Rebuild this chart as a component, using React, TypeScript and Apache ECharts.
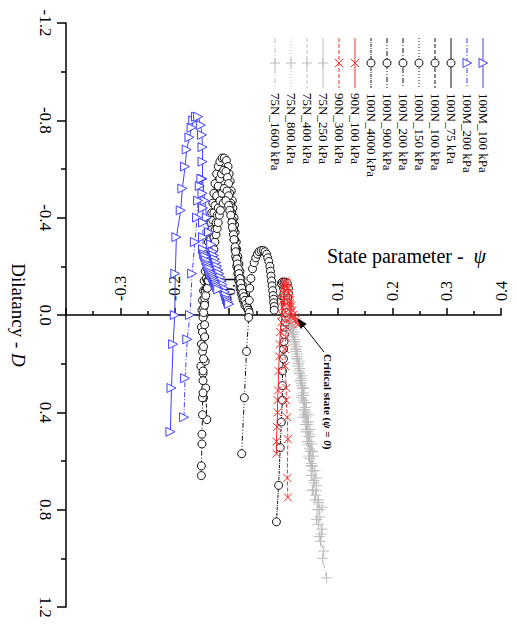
import React, { useEffect, useRef } from 'react';
import * as echarts from 'echarts';

const FONT = '"Liberation Serif", "Times New Roman", Times, serif';
const BLUE = '#3f3fff';
const BLACK = '#111111';
const RED = '#ff2a2a';
const GRAY = '#bcbcbc';

const seriesNames = [
  '100M_100 kPa', '100M_200 kPa', '100N_75 kPa', '100N_100 kPa', '100N_150 kPa',
  '100N_200 kPa', '100N_900 kPa', '100N_4000 kPa', '90N_100 kPa', '90N_300 kPa',
  '75N_250 kPa', '75N_400 kPa', '75N_800 kPa', '75N_1600 kPa',
];

const psiTicks = [-0.4, -0.3, -0.2, -0.1, 0.0, 0.1, 0.2, 0.3, 0.4];
const dTicks = [-1.2, -0.8, -0.4, 0.0, 0.4, 0.8, 1.2];

// [psi, D]
const m100_100 = [
  [-0.208, 0.48], [-0.206, 0.30], [-0.203, 0.12], [-0.200, 0.00], [-0.199, -0.17], [-0.197, -0.32],
  [-0.189, -0.43], [-0.186, -0.52], [-0.181, -0.61], [-0.178, -0.68], [-0.173, -0.73], [-0.169, -0.77],
  [-0.166, -0.80], [-0.161, -0.815], [-0.157, -0.815], [-0.152, -0.78], [-0.150, -0.74], [-0.149, -0.69],
  [-0.149, -0.63], [-0.149, -0.56], [-0.145, -0.47], [-0.141, -0.40], [-0.137, -0.34], [-0.133, -0.29],
  [-0.130, -0.26], [-0.128, -0.245], [-0.126, -0.23], [-0.124, -0.215], [-0.122, -0.20], [-0.120, -0.185],
  [-0.118, -0.17], [-0.116, -0.155], [-0.114, -0.14], [-0.112, -0.125], [-0.110, -0.11], [-0.108, -0.095],
  [-0.106, -0.08], [-0.104, -0.065], [-0.102, -0.055], [-0.100, -0.045],
];
const m100_200 = [
  [-0.183, 0.42], [-0.181, 0.26], [-0.177, 0.10], [-0.172, 0.00], [-0.168, -0.17], [-0.163, -0.30],
  [-0.159, -0.40], [-0.157, -0.47], [-0.154, -0.53], [-0.151, -0.56], [-0.149, -0.50], [-0.148, -0.44],
  [-0.148, -0.38], [-0.148, -0.32], [-0.148, -0.27], [-0.146, -0.25], [-0.144, -0.24], [-0.142, -0.225],
  [-0.140, -0.21], [-0.138, -0.20], [-0.136, -0.19], [-0.134, -0.175], [-0.132, -0.165], [-0.130, -0.155],
  [-0.128, -0.145], [-0.126, -0.135], [-0.124, -0.125], [-0.122, -0.115], [-0.120, -0.105],
];
const n100_75 = [
  [-0.152, 0.21], [-0.151, 0.12], [-0.151, 0.05], [-0.150, -0.02], [-0.149, -0.06], [-0.147, -0.10],
  [-0.146, -0.14], [-0.144, -0.18], [-0.142, -0.22], [-0.140, -0.26], [-0.138, -0.30], [-0.136, -0.34],
  [-0.134, -0.38], [-0.132, -0.42], [-0.130, -0.46], [-0.128, -0.50], [-0.126, -0.54], [-0.123, -0.58],
  [-0.120, -0.61], [-0.117, -0.63], [-0.113, -0.645], [-0.109, -0.645], [-0.105, -0.635], [-0.102, -0.61],
  [-0.100, -0.58], [-0.098, -0.55], [-0.096, -0.51], [-0.094, -0.47], [-0.093, -0.44], [-0.091, -0.40],
  [-0.090, -0.37], [-0.089, -0.34], [-0.087, -0.30], [-0.086, -0.27], [-0.084, -0.24], [-0.082, -0.21],
  [-0.080, -0.18], [-0.078, -0.15], [-0.076, -0.125], [-0.074, -0.10], [-0.072, -0.08], [-0.070, -0.06],
  [-0.068, -0.045], [-0.066, -0.03], [-0.064, -0.02],
];
const n100_100 = [
  [-0.141, 0.43], [-0.143, 0.30], [-0.144, 0.19], [-0.145, 0.09], [-0.146, 0.00], [-0.145, -0.05],
  [-0.144, -0.10], [-0.142, -0.15], [-0.140, -0.19], [-0.138, -0.23], [-0.136, -0.27], [-0.134, -0.31],
  [-0.132, -0.35], [-0.130, -0.39], [-0.128, -0.42], [-0.126, -0.45], [-0.123, -0.49], [-0.120, -0.53],
  [-0.117, -0.56], [-0.114, -0.58], [-0.110, -0.595], [-0.106, -0.59], [-0.103, -0.565], [-0.101, -0.54],
  [-0.099, -0.50], [-0.097, -0.46], [-0.095, -0.42], [-0.094, -0.39], [-0.092, -0.35], [-0.091, -0.31],
  [-0.089, -0.27], [-0.088, -0.24], [-0.086, -0.20], [-0.084, -0.17], [-0.082, -0.14], [-0.080, -0.11],
  [-0.077, -0.085], [-0.074, -0.06], [-0.071, -0.04],
];
const n100_150 = [
  [-0.147, 0.34], [-0.148, 0.24], [-0.149, 0.15], [-0.149, 0.07], [-0.148, 0.01], [-0.147, -0.03],
  [-0.145, -0.07], [-0.142, -0.11], [-0.140, -0.14], [-0.138, -0.17], [-0.136, -0.20], [-0.134, -0.23],
  [-0.132, -0.26], [-0.130, -0.29], [-0.128, -0.32], [-0.126, -0.35], [-0.124, -0.38], [-0.122, -0.41],
  [-0.120, -0.44], [-0.117, -0.47], [-0.113, -0.50], [-0.109, -0.52], [-0.104, -0.51], [-0.101, -0.49],
  [-0.098, -0.45], [-0.096, -0.42], [-0.094, -0.38], [-0.092, -0.35], [-0.090, -0.31], [-0.088, -0.27],
  [-0.086, -0.23], [-0.084, -0.19], [-0.082, -0.16], [-0.080, -0.13], [-0.078, -0.10], [-0.075, -0.07],
];
const n100_200 = [
  [-0.151, 0.66], [-0.151, 0.62], [-0.150, 0.53], [-0.150, 0.49], [-0.149, 0.41], [-0.149, 0.34],
  [-0.148, 0.32], [-0.148, 0.27], [-0.148, 0.23], [-0.147, 0.18], [-0.147, 0.13], [-0.145, 0.09],
  [-0.145, 0.04], [-0.147, -0.01], [-0.145, -0.04], [-0.143, -0.08], [-0.140, -0.11], [-0.138, -0.14],
  [-0.136, -0.16], [-0.134, -0.19], [-0.132, -0.21], [-0.130, -0.24], [-0.128, -0.27], [-0.126, -0.30],
  [-0.124, -0.33], [-0.122, -0.355], [-0.120, -0.38], [-0.118, -0.41], [-0.116, -0.43], [-0.111, -0.46],
  [-0.106, -0.47], [-0.101, -0.45], [-0.099, -0.43], [-0.097, -0.41], [-0.095, -0.38], [-0.094, -0.36],
  [-0.092, -0.33], [-0.091, -0.31], [-0.089, -0.28], [-0.088, -0.26], [-0.086, -0.23], [-0.085, -0.21],
  [-0.083, -0.19], [-0.082, -0.17], [-0.080, -0.15], [-0.079, -0.13], [-0.077, -0.11], [-0.075, -0.09],
  [-0.073, -0.075], [-0.071, -0.06], [-0.069, -0.045], [-0.067, -0.03], [-0.065, -0.02], [-0.063, -0.01],
];
const n100_900 = [
  [-0.077, 0.57], [-0.072, 0.34], [-0.068, 0.15], [-0.064, 0.01], [-0.063, -0.06], [-0.062, -0.11],
  [-0.060, -0.15], [-0.057, -0.19], [-0.054, -0.215], [-0.051, -0.235], [-0.048, -0.25], [-0.045, -0.26],
  [-0.041, -0.265], [-0.037, -0.265], [-0.034, -0.26], [-0.031, -0.25], [-0.029, -0.235], [-0.027, -0.22],
  [-0.025, -0.20], [-0.024, -0.18], [-0.023, -0.16], [-0.022, -0.14], [-0.021, -0.12], [-0.020, -0.10],
  [-0.019, -0.08], [-0.018, -0.065], [-0.018, -0.05], [-0.017, -0.035], [-0.017, -0.02],
];
const n100_4000 = [
  [-0.013, 0.85], [-0.009, 0.70], [-0.006, 0.545], [-0.004, 0.44], [-0.002, 0.35], [-0.002, 0.29],
  [-0.002, 0.23], [0.000, 0.18], [0.000, 0.14], [0.001, 0.11], [0.002, 0.08], [0.002, 0.05],
  [0.003, 0.03], [0.004, 0.01], [0.004, -0.01], [0.004, -0.03], [0.003, -0.05], [0.002, -0.07],
  [0.001, -0.09], [0.000, -0.11], [-0.002, -0.125], [-0.004, -0.13], [-0.002, -0.135], [0.001, -0.135],
  [0.004, -0.135], [0.007, -0.13], [0.009, -0.11], [0.009, -0.09], [0.008, -0.07], [0.007, -0.05],
  [0.006, -0.03], [0.005, -0.01],
];
const n90_100 = [
  [-0.013, 0.57], [-0.013, 0.52], [-0.012, 0.46], [-0.011, 0.40], [-0.011, 0.35], [-0.010, 0.31],
  [-0.009, 0.23], [-0.008, 0.17], [-0.007, 0.12], [-0.006, 0.07], [-0.004, 0.03], [-0.003, 0.00],
  [-0.002, -0.03], [-0.001, -0.06], [0.000, -0.09], [0.001, -0.11], [0.002, -0.13], [0.004, -0.14],
  [0.006, -0.13], [0.008, -0.11], [0.010, -0.09], [0.011, -0.07], [0.012, -0.05], [0.013, -0.03],
  [0.014, -0.01], [0.015, 0.01],
];
const n90_300 = [
  [0.008, 0.75], [0.007, 0.67], [0.008, 0.51], [0.007, 0.42], [0.005, 0.35], [0.005, 0.30],
  [0.003, 0.21], [0.003, 0.14], [0.004, 0.09], [0.005, 0.05], [0.006, 0.02], [0.004, -0.01],
  [0.002, -0.04], [0.001, -0.07], [0.002, -0.10], [0.004, -0.12], [0.007, -0.11], [0.010, -0.09],
  [0.012, -0.06], [0.014, -0.04], [0.016, -0.02], [0.018, 0.00], [0.020, 0.01], [0.022, 0.02],
  [0.024, 0.03], [0.026, 0.04],
];
const n75_250 = [
  [0.050, 0.62], [0.046, 0.58], [0.048, 0.55], [0.043, 0.52], [0.045, 0.48], [0.040, 0.45],
  [0.042, 0.42], [0.037, 0.39], [0.038, 0.36], [0.034, 0.33], [0.035, 0.30], [0.031, 0.27],
  [0.030, 0.24], [0.027, 0.21], [0.025, 0.18], [0.023, 0.15], [0.020, 0.12], [0.018, 0.09],
  [0.015, 0.07], [0.013, 0.05], [0.011, 0.03], [0.009, 0.01],
];
const n75_400 = [
  [0.058, 0.76], [0.054, 0.72], [0.056, 0.69], [0.051, 0.66], [0.053, 0.62], [0.048, 0.59],
  [0.050, 0.56], [0.045, 0.53], [0.047, 0.50], [0.042, 0.47], [0.044, 0.44], [0.039, 0.41],
  [0.040, 0.38], [0.036, 0.35], [0.037, 0.32], [0.033, 0.29], [0.033, 0.26], [0.029, 0.23],
  [0.028, 0.20], [0.025, 0.17], [0.023, 0.14], [0.021, 0.11], [0.018, 0.08], [0.015, 0.06],
  [0.012, 0.04], [0.010, 0.02],
];
const n75_800 = [
  [0.068, 0.93], [0.070, 0.90], [0.064, 0.86], [0.067, 0.83], [0.062, 0.80], [0.064, 0.76],
  [0.059, 0.74], [0.061, 0.70], [0.056, 0.68], [0.058, 0.64], [0.053, 0.62], [0.055, 0.58],
  [0.050, 0.56], [0.052, 0.53], [0.047, 0.50], [0.049, 0.47], [0.044, 0.45], [0.045, 0.41],
  [0.040, 0.39], [0.042, 0.36], [0.037, 0.33], [0.038, 0.30], [0.033, 0.28], [0.034, 0.25],
  [0.030, 0.22], [0.029, 0.19], [0.026, 0.16], [0.024, 0.13], [0.021, 0.10], [0.019, 0.07],
  [0.016, 0.05], [0.013, 0.03], [0.011, 0.01],
];
const n75_1600 = [
  [0.079, 1.08], [0.072, 1.00], [0.074, 0.97], [0.066, 0.91], [0.071, 0.88], [0.061, 0.84],
  [0.066, 0.80], [0.071, 0.79], [0.064, 0.77], [0.060, 0.72], [0.053, 0.72], [0.060, 0.67],
  [0.054, 0.64], [0.051, 0.61], [0.053, 0.56], [0.047, 0.52], [0.049, 0.49], [0.042, 0.48],
  [0.046, 0.44], [0.041, 0.40], [0.036, 0.42], [0.039, 0.36], [0.033, 0.34], [0.035, 0.30],
  [0.031, 0.27], [0.029, 0.24], [0.027, 0.20], [0.025, 0.18], [0.022, 0.14], [0.020, 0.11],
  [0.018, 0.08], [0.016, 0.05], [0.013, 0.03], [0.010, 0.01],
];

const seriesData = [
  m100_100, m100_200, n100_75, n100_100, n100_150, n100_200, n100_900, n100_4000,
  n90_100, n90_300, n75_250, n75_400, n75_800, n75_1600,
];

type Mk = 'tri' | 'circ' | 'x' | 'plus';
const styles: { color: string; dash: number[] | 'solid'; mk: Mk; z: number }[] = [
  { color: BLUE, dash: 'solid', mk: 'tri', z: 4 },
  { color: BLUE, dash: [5, 2, 1, 2], mk: 'tri', z: 4 },
  { color: BLACK, dash: 'solid', mk: 'circ', z: 2 },
  { color: BLACK, dash: [4, 2], mk: 'circ', z: 2 },
  { color: BLACK, dash: [1, 2], mk: 'circ', z: 2 },
  { color: BLACK, dash: [5, 2, 1, 2], mk: 'circ', z: 2 },
  { color: BLACK, dash: [5, 2, 1, 2, 1, 2], mk: 'circ', z: 2 },
  { color: BLACK, dash: [3, 1, 1, 1], mk: 'circ', z: 2 },
  { color: RED, dash: 'solid', mk: 'x', z: 5 },
  { color: RED, dash: [4, 2], mk: 'x', z: 5 },
  { color: GRAY, dash: 'solid', mk: 'plus', z: 3 },
  { color: GRAY, dash: [4, 2], mk: 'plus', z: 3 },
  { color: GRAY, dash: [1, 2], mk: 'plus', z: 3 },
  { color: GRAY, dash: [5, 2, 1, 2], mk: 'plus', z: 3 },
];

const symbolFor = (mk: Mk) => {
  if (mk === 'tri') return { symbol: 'triangle', symbolSize: 9, symbolRotate: -90 };
  if (mk === 'circ') return { symbol: 'circle', symbolSize: 8, symbolRotate: 0 };
  if (mk === 'x') return { symbol: 'path://M0,0L10,10M10,0L0,10', symbolSize: 8, symbolRotate: 0 };
  return { symbol: 'path://M5,0L5,10M0,5L10,5', symbolSize: 11, symbolRotate: 0 };
};

function legendGraphics() {
  const els: any[] = [];
  seriesNames.forEach((name, i) => {
    const st = styles[i];
    const x = 483 - i * 16;
    const cy = 63;
    els.push({
      type: 'line',
      shape: { x1: x, y1: 38, x2: x, y2: 88 },
      style: { stroke: st.color, lineWidth: 1, lineDash: st.dash === 'solid' ? null : st.dash },
    });
    if (st.mk === 'tri') {
      els.push({
        type: 'polygon',
        shape: { points: [[x - 4, cy - 4.5], [x + 4.5, cy], [x - 4, cy + 4.5]] },
        style: { fill: '#fff', stroke: st.color, lineWidth: 1 },
      });
    } else if (st.mk === 'circ') {
      els.push({ type: 'circle', shape: { cx: x, cy, r: 4 }, style: { fill: '#fff', stroke: st.color, lineWidth: 1 } });
    } else if (st.mk === 'x') {
      els.push({ type: 'line', shape: { x1: x - 4, y1: cy - 4, x2: x + 4, y2: cy + 4 }, style: { stroke: st.color, lineWidth: 1 } });
      els.push({ type: 'line', shape: { x1: x + 4, y1: cy - 4, x2: x - 4, y2: cy + 4 }, style: { stroke: st.color, lineWidth: 1 } });
    } else {
      els.push({ type: 'line', shape: { x1: x - 5, y1: cy, x2: x + 5, y2: cy }, style: { stroke: st.color, lineWidth: 1 } });
      els.push({ type: 'line', shape: { x1: x, y1: cy - 5, x2: x, y2: cy + 5 }, style: { stroke: st.color, lineWidth: 1 } });
    }
    els.push({
      type: 'text',
      x,
      y: 93,
      rotation: -Math.PI / 2,
      style: { text: name, font: `13px ${FONT}`, fill: '#000', align: 'left', verticalAlign: 'middle' },
    });
  });
  return els;
}

const GRID_TOP = 23;
const GRID_BOTTOM = 20;
const CHART_H = 627;

export default function App() {
  const ref = useRef<HTMLDivElement>(null);
  useEffect(() => {
    if (!ref.current) return;
    const chart = echarts.init(ref.current, null, { renderer: 'svg' });
    const fmt = (v: number) => (Math.abs(v) < 1e-9 ? '0.0' : v.toFixed(1));
    const dMin = dTicks[0];
    const dMax = dTicks[dTicks.length - 1];
    const plotH = CHART_H - GRID_TOP - GRID_BOTTOM;
    // move the psi axis (top position) down to D = 0
    const zeroOffset = -((0 - dMin) / (dMax - dMin)) * plotH;
    const option: any = {
      animation: false,
      backgroundColor: '#fff',
      textStyle: { fontFamily: FONT },
      grid: {
        left: 66, right: 16, top: GRID_TOP, bottom: GRID_BOTTOM,
        containLabel: false, outerBoundsMode: 'none',
      },
      xAxis: {
        type: 'value',
        min: psiTicks[0],
        max: psiTicks[psiTicks.length - 1],
        interval: 0.1,
        position: 'top',
        offset: zeroOffset,
        axisLine: { onZero: false, lineStyle: { color: '#000', width: 1.5 } },
        axisTick: { length: 7, lineStyle: { color: '#000', width: 1.5 } },
        minorTick: { show: true, splitNumber: 2, length: 4, lineStyle: { color: '#000', width: 1.5 } },
        splitLine: { show: false },
        axisLabel: {
          rotate: -90,
          margin: 14,
          fontSize: 16,
          fontFamily: FONT,
          color: '#000',
          formatter: (v: number) => (Math.abs(v - psiTicks[0]) < 1e-9 ? '' : fmt(v)),
        },
      },
      yAxis: {
        type: 'value',
        inverse: true,
        min: dMin,
        max: dMax,
        interval: 0.4,
        axisLine: { onZero: false, lineStyle: { color: '#000', width: 1.5 } },
        axisTick: { length: 9, lineStyle: { color: '#000', width: 1.5 } },
        minorTick: { show: true, splitNumber: 2, length: 5, lineStyle: { color: '#000', width: 1.5 } },
        splitLine: { show: false },
        axisLabel: { rotate: -90, margin: 12, fontSize: 17, fontFamily: FONT, color: '#000', formatter: fmt },
        name: '{a|Dilatancy - }{b|D}',
        nameLocation: 'middle',
        nameRotate: -90,
        nameGap: 38,
        nameTextStyle: {
          rich: {
            a: { fontSize: 19, fontFamily: FONT, color: '#000' },
            b: { fontSize: 19, fontFamily: FONT, color: '#000', fontStyle: 'italic' },
          },
        },
      },
      series: seriesData.map((d, i) => {
        const st = styles[i];
        const sym = symbolFor(st.mk);
        const isPath = st.mk === 'x' || st.mk === 'plus';
        return {
          name: seriesNames[i],
          type: 'line',
          data: d,
          z: st.z,
          showAllSymbol: true,
          ...sym,
          lineStyle: { color: st.color, width: 1, type: st.dash },
          itemStyle: isPath
            ? { color: 'rgba(0,0,0,0)', borderColor: st.color, borderWidth: 1 }
            : { color: '#fff', borderColor: st.color, borderWidth: 1 },
          emphasis: { disabled: true },
        };
      }),
      graphic: [
        ...legendGraphics(),
        {
          type: 'text',
          x: 327,
          y: 256,
          style: {
            text: '{a|State parameter -  }{b|ψ}',
            rich: {
              a: { fontSize: 20, fontFamily: FONT, fill: '#000' },
              b: { fontSize: 20, fontFamily: FONT, fill: '#000', fontStyle: 'italic' },
            },
            align: 'left',
            verticalAlign: 'middle',
          },
        },
        {
          type: 'line',
          shape: { x1: 324, y1: 352, x2: 303.5, y2: 326 },
          style: { stroke: '#000', lineWidth: 1 },
          z: 10,
        },
        {
          type: 'polygon',
          shape: { points: [[297.5, 318.5], [306.3, 323.9], [300.8, 328.3]] },
          style: { fill: '#000', stroke: '#000', lineWidth: 0.5 },
          z: 10,
        },
        {
          type: 'text',
          x: 328,
          y: 354,
          rotation: -Math.PI / 2,
          z: 10,
          style: {
            text: '{a|Critical state (}{i|ψ}{a| = }{i|0}{a|)}',
            rich: {
              a: { fontSize: 11, fontFamily: FONT, fontWeight: 'bold', fill: '#000' },
              i: { fontSize: 11, fontFamily: FONT, fontWeight: 'bold', fontStyle: 'italic', fill: '#000' },
            },
            align: 'left',
            verticalAlign: 'middle',
          },
        },
      ],
    };
    chart.setOption(option);
    return () => chart.dispose();
  }, []);
  return (
    <div
      ref={ref}
      style={{ position: 'fixed', left: 0, top: 0, width: 517, height: CHART_H, background: '#fff' }}
    />
  );
}
